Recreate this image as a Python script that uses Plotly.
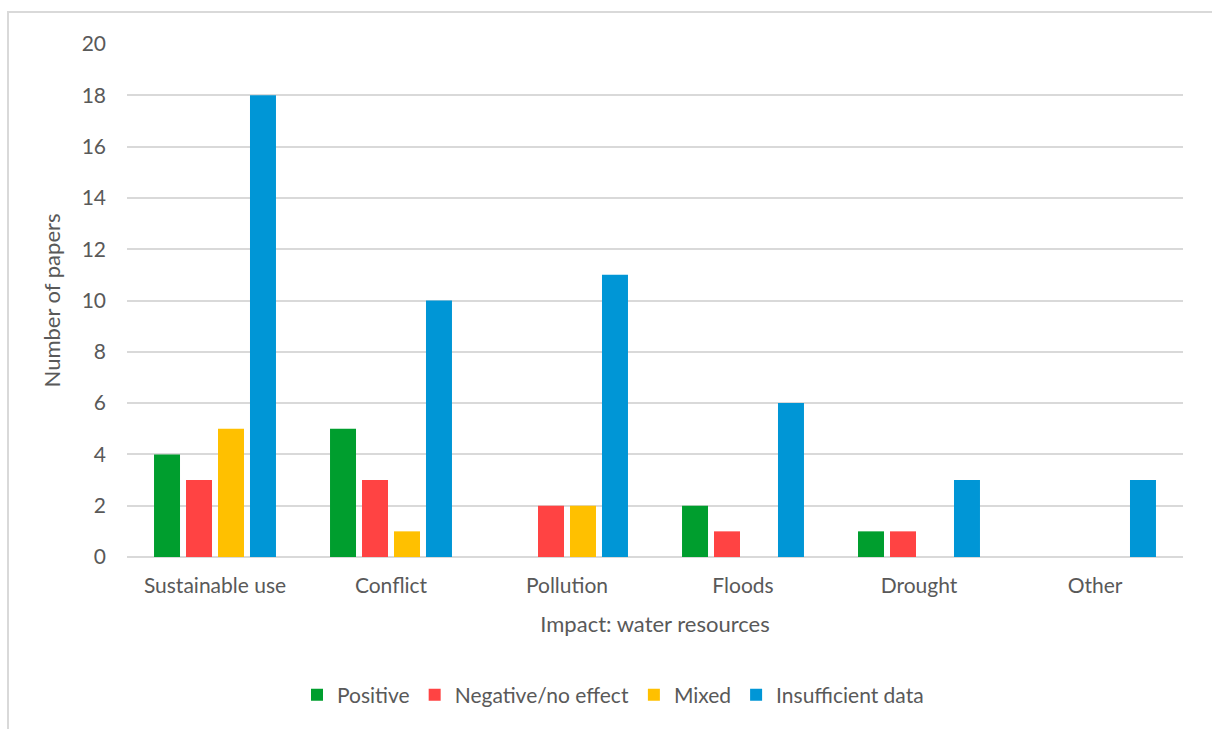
import plotly.graph_objects as go

categories = ["Sustainable use", "Conflict", "Pollution", "Floods", "Drought", "Other"]
series_names = ["Positive", "Negative/no effect", "Mixed", "Insufficient data"]
positive = [4, 5, 0, 2, 1, 0]
negative = [3, 3, 2, 1, 1, 0]
mixed = [5, 1, 2, 0, 0, 0]
insufficient = [18, 10, 11, 6, 3, 3]
colors = ["#009E2E", "#FF4343", "#FFC000", "#0096D6"]

fig = go.Figure()
for name, vals, col in zip(series_names, [positive, negative, mixed, insufficient], colors):
    fig.add_trace(go.Bar(x=categories, y=vals, name=name,
                         marker=dict(color=col, line=dict(width=0))))

font_family = "Lato, Open Sans, sans-serif"
fig.update_layout(
    width=1212, height=729,
    margin=dict(l=127, r=29, t=44, b=172),
    plot_bgcolor="white", paper_bgcolor="white",
    barmode="group", bargap=0.273, bargroupgap=0.1875,
    font=dict(family=font_family, color="#595959", size=21),
    showlegend=True,
    legend=dict(orientation="h", x=0.5 - 42 / 1056, xanchor="center", y=-0.269, yanchor="middle",
                font=dict(size=21, color="#595959"), traceorder="normal",
                itemwidth=30),
    xaxis=dict(showgrid=False, showline=False, ticks="", tickfont=dict(size=21),
               ticklabelstandoff=14,
               title=dict(text="Impact: water resources", font=dict(size=22), standoff=20)),
    yaxis=dict(range=[0, 20], dtick=2, showgrid=True, gridcolor="#D9D9D9", gridwidth=1.5,
               zeroline=True, zerolinecolor="#D9D9D9", zerolinewidth=1.5,
               ticks="", tickfont=dict(size=21), ticklabelstandoff=20,
               title=dict(text="Number of papers", font=dict(size=22), standoff=14)),
)

# Chart-area border (Excel style), partially cropped at right/bottom
fig.add_shape(type="rect", xref="paper", yref="paper",
              x0=(8 - 127) / 1056, x1=(1230 - 127) / 1056,
              y0=(557 - 740) / 513, y1=(557 - 12) / 513,
              line=dict(color="#D9D9D9", width=2), fillcolor="rgba(0,0,0,0)", layer="below")

fig.write_html("out.html")
